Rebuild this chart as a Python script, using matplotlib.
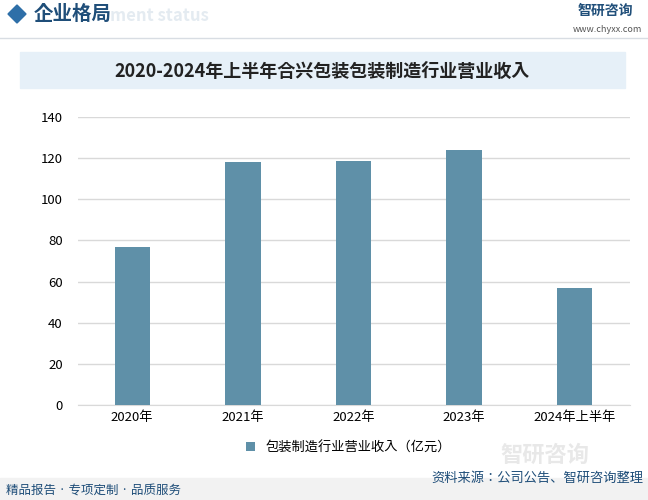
import matplotlib
matplotlib.use("Agg")
import matplotlib.pyplot as plt
from matplotlib import font_manager as fm
from matplotlib.patches import Rectangle, Polygon

cjk = [f.name for f in fm.fontManager.ttflist if "CJK" in f.name or "Noto Sans SC" in f.name]
plt.rcParams["font.family"] = "sans-serif"
plt.rcParams["font.sans-serif"] = (["Noto Sans CJK SC"] + sorted(set(cjk)) + ["DejaVu Sans"])

categories = ["2020年", "2021年", "2022年", "2023年", "2024年上半年"]
values = [76.9, 118.3, 118.8, 124.1, 56.9]
yticks = [0, 20, 40, 60, 80, 100, 120, 140]
series_name = "包装制造行业营业收入（亿元）"
title = "2020-2024年上半年合兴包装包装制造行业营业收入"

W, H = 648, 500
fig = plt.figure(figsize=(W/100, H/100), dpi=100)
fig.patch.set_facecolor("white")

# header
fig.patches.append(Polygon([[8/W, 1-14/H], [17/W, 1-5/H], [26/W, 1-14/H], [17/W, 1-23/H]],
                           closed=True, transform=fig.transFigure, color="#2e6fa8"))
fig.text(34/W, 1-14/H, "企业格局", fontsize=14, fontweight="bold", color="#1f4e79", va="center")
fig.text(110/W, 1-16/H, "ment status", fontsize=12, color="#e4ebf1", va="center", fontweight="bold")
fig.text(578/W, 1-11/H, "智研咨询", fontsize=10, color="#1f4e79", va="center", fontweight="bold")
fig.text(642/W, 1-29/H, "www.chyxx.com", fontsize=6.5, color="#555555", va="center", ha="right")
fig.lines.append(plt.Line2D([0, 1], [1-38/H, 1-38/H], transform=fig.transFigure, color="#d8dde3", lw=1))

# title box
fig.patches.append(Rectangle((20/W, 1-88/H), 605/W, 36/H, transform=fig.transFigure,
                             color="#e6f0f8", zorder=0))
fig.text(322/W, 1-71/H, title, fontsize=13, fontweight="bold", ha="center", va="center", color="#222222")

ax = fig.add_axes([78/W, 1-405/H, 552/W, 288/H])
x = range(len(categories))
ax.bar(x, values, width=0.32, color="#5f90a8", label=series_name, zorder=3)
ax.set_ylim(0, 140)
ax.set_yticks(yticks)
ax.set_xlim(-0.49, 4.5)
ax.set_xticks(list(x))
ax.set_xticklabels(categories, fontsize=9.5)
ax.tick_params(axis="y", labelsize=9.5, length=0, pad=11)
ax.tick_params(axis="x", length=0, pad=4)
ax.grid(axis="y", color="#d9d9d9", lw=1, zorder=0)
for s in ["top", "right", "left"]:
    ax.spines[s].set_visible(False)
ax.spines["bottom"].set_color("#d9d9d9")
ax.legend(loc="upper center", bbox_to_anchor=(0.49, -0.085), frameon=False, fontsize=9.5,
          handlelength=0.7, handleheight=0.7)

# footer
fig.patches.append(Rectangle((0, 0), 1, 22/H, transform=fig.transFigure, color="#f2f2f2", zorder=0))
fig.text(6/W, 1-491/H, "精品报告 · 专项定制 · 品质服务", fontsize=9, color="#1f4e79", va="center")
fig.text(643/W, 1-478/H, "资料来源：公司公告、智研咨询整理", fontsize=9.5, color="#1f4e79",
         va="center", ha="right")
fig.text(500/W, 1-455/H, "智研咨询", fontsize=16, color="#e8e8e8", va="center", fontweight="bold")

fig.savefig("out.png", dpi=100)
